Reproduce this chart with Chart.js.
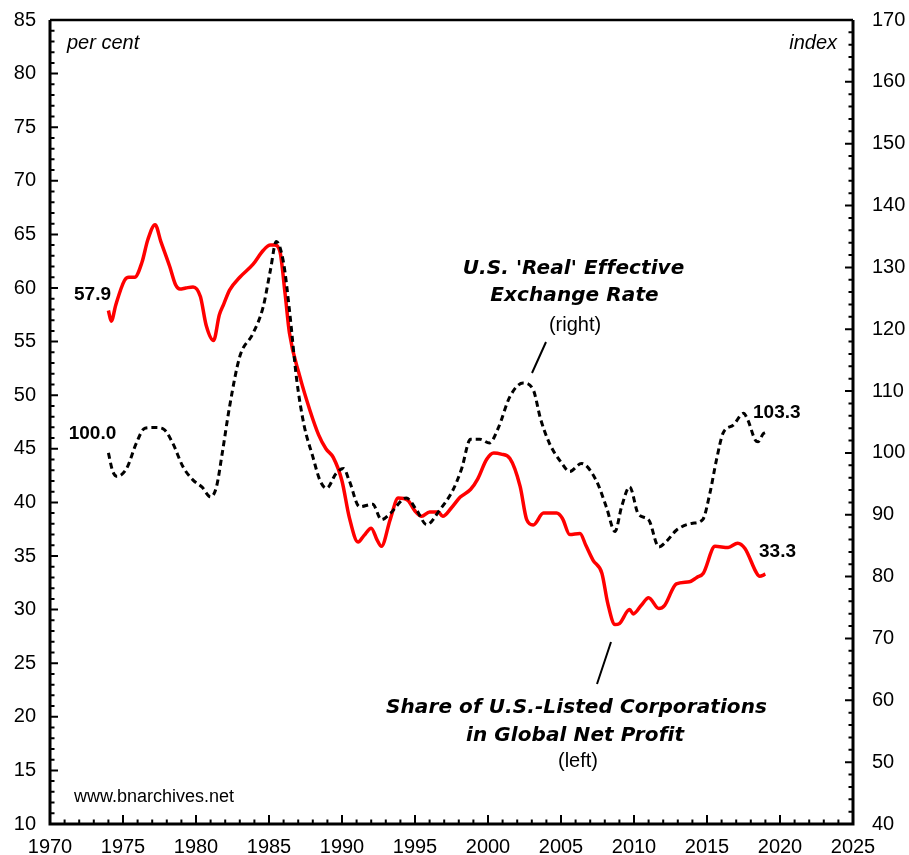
<!DOCTYPE html>
<html>
<head>
<meta charset="utf-8">
<script src="https://cdn.jsdelivr.net/npm/chart.js@4.4.1/dist/chart.umd.min.js"></script>
<style>
  html, body { margin: 0; padding: 0; background: #fff; }
  #c { display: block; }
</style>
</head>
<body>
<canvas id="c" width="909" height="855"></canvas>
<script>
// ---------- DATA ----------
const xTickLabels = [1970, 1975, 1980, 1985, 1990, 1995, 2000, 2005, 2010, 2015, 2020, 2025];
const leftTickLabels = [10, 15, 20, 25, 30, 35, 40, 45, 50, 55, 60, 65, 70, 75, 80, 85];
const rightTickLabels = [40, 50, 60, 70, 80, 90, 100, 110, 120, 130, 140, 150, 160, 170];

// Share of U.S.-Listed Corporations in Global Net Profit (left, per cent)
const shareYears = [1974.0,1974.2,1974.5,1975.1,1975.4,1975.8,1976.3,1976.7,1977.2,1977.6,1978.2,1978.6,1978.9,1979.3,1979.8,1980.3,1980.7,1981.2,1981.6,1981.9,1982.3,1983.0,1983.9,1984.6,1985.1,1985.4,1985.75,1986.1,1986.4,1987.1,1987.8,1988.4,1988.9,1989.4,1990.0,1990.5,1991.1,1991.5,1992.0,1992.4,1992.7,1993.3,1993.85,1994.5,1995.0,1995.45,1996.0,1996.6,1996.9,1997.5,1998.1,1998.8,1999.3,1999.9,2000.4,2000.9,2001.5,2002.2,2002.65,2003.1,2003.8,2004.7,2005.1,2005.6,2006.3,2006.7,2007.2,2007.8,2008.2,2008.7,2009.0,2009.7,2009.95,2010.5,2011.0,2011.7,2012.1,2012.9,2013.8,2014.3,2014.75,2015.55,2016.45,2017.1,2017.6,2018.4,2018.6,2019.0];
const shareValues = [57.9,56.9,58.4,60.7,61.0,61.0,62.4,64.5,65.9,64.3,62.0,60.3,59.9,60.0,60.1,59.2,56.5,55.1,57.5,58.5,59.8,61.0,62.2,63.5,64.0,64.0,63.4,59.5,55.8,51.8,48.6,46.3,45.0,44.2,42.0,38.6,36.3,36.9,37.6,36.5,35.9,38.4,40.4,40.2,39.2,38.7,39.1,39.1,38.7,39.5,40.5,41.2,42.2,44.0,44.6,44.5,44.1,41.5,38.4,37.9,39.0,39.0,38.5,37.0,37.1,36.0,34.6,33.4,30.6,28.6,28.7,30.0,29.6,30.4,31.1,30.1,30.4,32.4,32.6,33.0,33.4,35.9,35.8,36.2,35.7,33.4,33.1,33.3];

// U.S. 'Real' Effective Exchange Rate (right, index)
const reerYears = [1974.0,1974.3,1974.6,1975.25,1975.9,1976.5,1977.2,1977.75,1978.4,1979.1,1979.8,1980.4,1981.0,1981.4,1981.8,1982.3,1983.0,1983.9,1984.6,1985.1,1985.5,1986.0,1986.4,1986.9,1987.4,1988.0,1988.5,1988.95,1989.6,1990.1,1990.5,1991.2,1992.1,1992.7,1993.3,1994.4,1995.1,1995.8,1996.7,1997.6,1998.2,1998.8,1999.45,2000.1,2000.7,2001.5,2002.4,2003.1,2003.6,2004.2,2005.0,2005.6,2006.4,2007.4,2008.1,2008.7,2009.15,2009.7,2010.3,2011.0,2011.7,2012.2,2012.9,2013.95,2014.7,2015.2,2015.65,2016.1,2016.8,2017.5,2017.8,2018.3,2018.5,2018.85,2019.0];
const reerValues = [100.0,97.0,96.2,97.5,101.5,104.0,104.1,103.9,101.6,97.8,95.6,94.5,92.9,94.5,100.0,107.5,115.6,119.3,123.6,129.6,134.2,130.7,123.1,111.8,104.5,99.4,95.5,94.3,96.7,97.5,95.5,91.3,91.7,89.2,90.2,92.7,90.8,88.4,90.8,94.0,97.5,102.2,102.2,101.6,104.0,109.1,111.3,110.2,105.5,101.6,98.5,97.0,98.3,95.6,91.3,87.3,91.3,94.5,90.1,89.2,84.8,85.65,87.5,88.6,89.2,93.5,98.9,103.2,104.5,106.4,105.3,102.1,101.8,103.1,103.3];

// ---------- CHART ----------
const TICK_FONT = { family: '"Liberation Sans", Arial, sans-serif', size: 20 };

const framePlugin = {
  id: 'frame',
  afterDraw(chart) {
    const { ctx, chartArea: a, scales } = chart;
    const xs = scales.x, yl = scales.y, yr = scales.y2;
    ctx.save();
    ctx.strokeStyle = '#000';
    // minor/major ticks, pointing inward
    ctx.lineWidth = 2;
    ctx.beginPath();
    for (let v = 1970; v <= 2025; v++) {
      const px = xs.getPixelForValue(v);
      const len = (v % 5 === 0) ? 9 : 4.5;
      ctx.moveTo(px, a.bottom); ctx.lineTo(px, a.bottom - len);
    }
    for (let v = 10; v <= 85; v++) {
      const py = yl.getPixelForValue(v);
      const len = (v % 5 === 0) ? 8 : 4.5;
      ctx.moveTo(a.left, py); ctx.lineTo(a.left + len, py);
    }
    for (let v = 40; v <= 170; v += 2) {
      const py = yr.getPixelForValue(v);
      const len = (v % 10 === 0) ? 8 : 4.5;
      ctx.moveTo(a.right, py); ctx.lineTo(a.right - len, py);
    }
    ctx.stroke();
    // frame
    ctx.lineWidth = 3;
    ctx.beginPath();
    ctx.moveTo(a.left, a.top); ctx.lineTo(a.left, a.bottom);
    ctx.lineTo(a.right, a.bottom); ctx.lineTo(a.right, a.top);
    ctx.stroke();
    ctx.lineWidth = 2.5;
    ctx.beginPath();
    ctx.moveTo(a.left, a.top); ctx.lineTo(a.right, a.top);
    ctx.stroke();

    // texts
    ctx.fillStyle = '#000';
    ctx.textBaseline = 'middle';
    const sans = '"Liberation Sans", Arial, sans-serif';
    ctx.font = 'italic 20px ' + sans;
    ctx.textAlign = 'left';
    ctx.fillText('per cent', 67, 43);
    ctx.textAlign = 'right';
    ctx.fillText('index', 837, 43);
    ctx.font = '18px ' + sans;
    ctx.textAlign = 'left';
    ctx.fillText('www.bnarchives.net', 74, 797);

    // value labels
    ctx.font = 'bold 19px ' + sans;
    ctx.textAlign = 'center';
    ctx.fillText('57.9', 92.5, 295);
    ctx.fillText('100.0', 92.5, 434);
    ctx.textAlign = 'left';
    ctx.fillText('103.3', 753, 413);
    ctx.fillText('33.3', 759, 552);

    // annotation titles (bold oblique), 20px with tightened spacing to match widths
    const titleFont = 'italic bold 20px "DejaVu Sans", Verdana, sans-serif';
    ctx.font = titleFont;
    const ref = 'Share of U.S.-Listed Corporations';
    const w0 = ctx.measureText(ref).width;
    const ls = (381 - w0) / ref.length;
    if ('letterSpacing' in ctx) ctx.letterSpacing = ls.toFixed(2) + 'px';
    ctx.font = titleFont;
    ctx.textAlign = 'center';
    ctx.fillText('Share of U.S.-Listed Corporations', 576.5, 708);
    ctx.fillText('in Global Net Profit', 575, 736);
    ctx.fillText("U.S. 'Real' Effective", 573.5, 269);
    ctx.fillText('Exchange Rate', 574.5, 296);
    if ('letterSpacing' in ctx) ctx.letterSpacing = '0px';
    ctx.font = '20px ' + sans;
    ctx.fillText('(left)', 578, 761);
    ctx.fillText('(right)', 575, 325);

    // pointer lines
    ctx.lineWidth = 2;
    ctx.beginPath();
    ctx.moveTo(546, 342); ctx.lineTo(532, 373);
    ctx.moveTo(611, 642); ctx.lineTo(597, 684);
    ctx.stroke();
    ctx.restore();
  }
};

function fitY(width) {
  return (s) => { s.width = width; s.paddingTop = 0; s.paddingBottom = 0; };
}

new Chart(document.getElementById('c'), {
  type: 'line',
  data: {
    datasets: [
      {
        label: "U.S. 'Real' Effective Exchange Rate (right)",
        data: reerYears.map((x, i) => ({ x, y: reerValues[i] })),
        yAxisID: 'y2',
        borderColor: '#000',
        borderWidth: 3,
        borderDash: [6, 4],
        pointRadius: 0,
        fill: false,
        cubicInterpolationMode: 'monotone'
      },
      {
        label: 'Share of U.S.-Listed Corporations in Global Net Profit (left)',
        data: shareYears.map((x, i) => ({ x, y: shareValues[i] })),
        yAxisID: 'y',
        borderColor: '#ff0000',
        borderWidth: 3.5,
        pointRadius: 0,
        fill: false,
        cubicInterpolationMode: 'monotone'
      }
    ]
  },
  options: {
    responsive: false,
    animation: false,
    devicePixelRatio: 1,
    layout: { padding: { top: 20, left: 0, right: 0, bottom: 0 } },
    plugins: { legend: { display: false }, tooltip: { enabled: false } },
    scales: {
      x: {
        type: 'linear',
        min: xTickLabels[0],
        max: xTickLabels[xTickLabels.length - 1],
        afterBuildTicks: (s) => { s.ticks = xTickLabels.map(v => ({ value: v })); },
        ticks: { font: TICK_FONT, color: '#000', padding: 11, maxRotation: 0, autoSkip: false, callback: v => String(v) },
        grid: { display: false, drawTicks: false },
        border: { display: false },
        afterFit: (s) => { s.height = 31; s.paddingLeft = 0; s.paddingRight = 0; }
      },
      y: {
        position: 'left',
        min: leftTickLabels[0],
        max: leftTickLabels[leftTickLabels.length - 1],
        afterBuildTicks: (s) => { s.ticks = leftTickLabels.map(v => ({ value: v })); },
        ticks: { font: TICK_FONT, color: '#000', padding: 14, autoSkip: false },
        grid: { display: false, drawTicks: false },
        border: { display: false },
        afterFit: fitY(50)
      },
      y2: {
        position: 'right',
        min: rightTickLabels[0],
        max: rightTickLabels[rightTickLabels.length - 1],
        afterBuildTicks: (s) => { s.ticks = rightTickLabels.map(v => ({ value: v })); },
        ticks: { font: TICK_FONT, color: '#000', padding: 19, autoSkip: false },
        grid: { display: false, drawTicks: false },
        border: { display: false },
        afterFit: fitY(56)
      }
    }
  },
  plugins: [framePlugin]
});
</script>
</body>
</html>
